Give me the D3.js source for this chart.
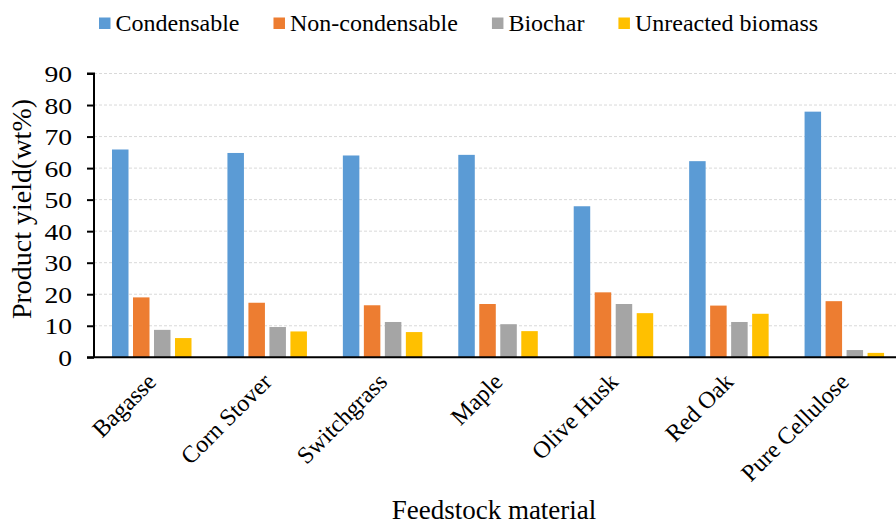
<!DOCTYPE html>
<html><head><meta charset="utf-8">
<script src="https://cdn.jsdelivr.net/npm/d3@7"></script>
<style>body{margin:0;background:#fff}svg{display:block}</style>
</head><body><svg id="c" width="896" height="525" font-family="Liberation Serif"></svg>
<script>
const categories = ["Bagasse","Corn Stover","Switchgrass","Maple","Olive Husk","Red Oak","Pure Cellulose"];
const seriesNames = ["Condensable","Non-condensable","Biochar","Unreacted biomass"];
const condensable = [65.9, 64.8, 64.0, 64.2, 47.9, 62.2, 77.9];
const nonCondensable = [19.0, 17.3, 16.5, 16.9, 20.6, 16.4, 17.8];
const biochar = [8.7, 9.6, 11.2, 10.5, 16.9, 11.2, 2.3];
const unreacted = [6.1, 8.2, 8.0, 8.3, 14.0, 13.8, 1.4];
const colors = ["#5B9BD5","#ED7D31","#A5A5A5","#FFC000"];
const yTicks = [0,10,20,30,40,50,60,70,80,90];

const FONT = "Liberation Serif";
const values = [condensable, nonCondensable, biochar, unreacted];
const svg = d3.select("#c");
const pLeft = 94, pRight = 902, pTop = 73.5, pBottom = 357.3;
const x = d3.scaleBand().domain(categories).range([pLeft, pRight]).padding(0);
const x1 = d3.scaleBand().domain(seriesNames).range([18, 97.5]).paddingInner(0.214).paddingOuter(0);
const y = d3.scaleLinear().domain([0, 90]).range([pBottom, pTop]);

// grid
svg.append("g").selectAll("line").data(yTicks.filter(d=>d>0)).join("line")
  .attr("x1", pLeft).attr("x2", 896).attr("y1", d=>y(d)).attr("y2", d=>y(d))
  .attr("stroke", "#d9d9d9").attr("stroke-width", 1).attr("stroke-dasharray", "3,2");

// bars
const g = svg.append("g");
seriesNames.forEach((s, si) => {
  g.append("g").selectAll("rect").data(categories).join("rect")
    .attr("x", d => x(d) + x1(s))
    .attr("y", (d, i) => y(values[si][i]))
    .attr("width", x1.bandwidth())
    .attr("height", (d, i) => y(0) - y(values[si][i]))
    .attr("fill", colors[si]);
});

// y axis
const yAxis = d3.axisLeft(y).tickValues(yTicks).tickSize(7).tickPadding(6).tickFormat(d3.format("d"));
const ya = svg.append("g").attr("transform", `translate(${pLeft},0)`).call(yAxis)
  .attr("font-family", FONT).attr("font-size", 24);
ya.select(".domain").attr("stroke", "#000").attr("stroke-width", 2).attr("d", `M-7,${pTop}H0V${pBottom}`);
ya.selectAll(".tick line").attr("stroke", "#000").attr("stroke-width", 2);
ya.selectAll(".tick text")
  .attr("fill", "#000").attr("dy", "0.34em").attr("text-anchor", "end").attr("x", 0)
  .attr("transform", "translate(-22,0) scale(1.15,1)");

// x axis line
svg.append("line").attr("x1", pLeft - 7).attr("x2", 896).attr("y1", pBottom).attr("y2", pBottom)
  .attr("stroke", "#000").attr("stroke-width", 2);

// x labels
const xa = svg.append("g").attr("font-family", FONT).attr("font-size", 24);
xa.selectAll("text").data(categories).join("text")
  .attr("transform", d => `translate(${x(d) + x.bandwidth()/2},${pBottom + 20}) rotate(-45)`)
  .attr("text-anchor", "end").attr("dy", "0.35em").attr("fill", "#000")
  .text(d => d);

// axis titles
svg.append("text").attr("x", 494).attr("y", 519).attr("text-anchor", "middle")
  .attr("font-family", FONT).attr("font-size", 27).text("Feedstock material");
svg.append("text").attr("transform", `translate(31,209) rotate(-90)`).attr("text-anchor", "middle")
  .attr("font-family", FONT).attr("font-size", 28).text("Product yield(wt%)");

// legend
const lg = svg.append("g").attr("font-family", FONT).attr("font-size", 24);
let lx = 99;
seriesNames.forEach((s, i) => {
  lg.append("rect").attr("x", lx).attr("y", 17.5).attr("width", 11.5).attr("height", 11.5).attr("fill", colors[i]);
  const t = lg.append("text").attr("x", lx + 16.5).attr("y", 31).text(s);
  lx += 16.5 + t.node().getComputedTextLength() + 34;
});
</script></body></html>
